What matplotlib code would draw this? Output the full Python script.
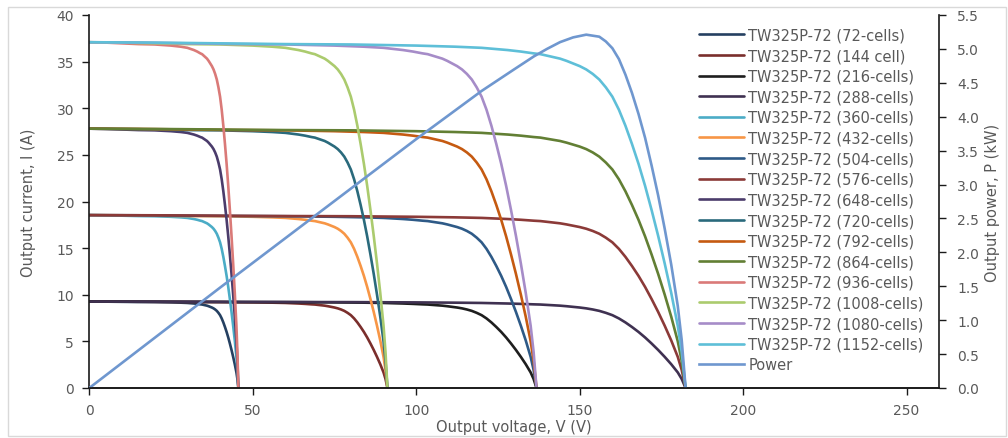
import matplotlib
matplotlib.use("Agg")
import matplotlib.pyplot as plt
from matplotlib.patches import Rectangle
import numpy as np

# ---- data ----
# I-V curve of one TW325P-72 module (72 cells)
module_voltage = [0, 5, 10, 15, 20, 25, 28, 30, 31, 32, 33, 34, 34.5, 35, 35.5, 36,
                  36.5, 37, 37.5, 38, 38.5, 39, 39.5, 40, 40.5, 41, 41.5, 42, 42.5,
                  43, 43.5, 44, 44.5, 45, 45.3, 45.6]
module_current = [9.27, 9.26, 9.24, 9.22, 9.21, 9.18, 9.15, 9.12, 9.09, 9.06, 9.02,
                  8.97, 8.95, 8.91, 8.87, 8.83, 8.77, 8.70, 8.63, 8.54, 8.42, 8.27,
                  8.06, 7.81, 7.46, 7.03, 6.54, 6.01, 5.42, 4.77, 4.08, 3.34, 2.55,
                  1.67, 0.97, 0.0]

labels = ["TW325P-72 (72-cells)", "TW325P-72 (144 cell)", "TW325P-72 (216-cells)",
          "TW325P-72 (288-cells)", "TW325P-72 (360-cells)", "TW325P-72 (432-cells)",
          "TW325P-72 (504-cells)", "TW325P-72 (576-cells)", "TW325P-72 (648-cells)",
          "TW325P-72 (720-cells)", "TW325P-72 (792-cells)", "TW325P-72 (864-cells)",
          "TW325P-72 (936-cells)", "TW325P-72 (1008-cells)", "TW325P-72 (1080-cells)",
          "TW325P-72 (1152-cells)"]
series_modules = [1, 2, 3, 4, 1, 2, 3, 4, 1, 2, 3, 4, 1, 2, 3, 4]
parallel_strings = [1, 1, 1, 1, 2, 2, 2, 2, 3, 3, 3, 3, 4, 4, 4, 4]

power_voltage = [0, 40, 80, 100, 120, 130, 136, 140, 144, 148, 152, 156, 158, 160,
                 162, 164, 166, 168, 170, 172, 174, 176, 178, 180, 181.2, 182.4]
power_kw = [0, 1.48, 2.94, 3.67, 4.38, 4.70, 4.89, 5.00, 5.10, 5.17, 5.21, 5.18,
            5.11, 5.01, 4.85, 4.62, 4.35, 4.04, 3.69, 3.28, 2.84, 2.35, 1.82, 1.21,
            0.71, 0.0]

x_ticks = [0, 50, 100, 150, 200, 250]
y_ticks = [0, 5, 10, 15, 20, 25, 30, 35, 40]
p_ticks = [0, 0.5, 1.0, 1.5, 2.0, 2.5, 3.0, 3.5, 4.0, 4.5, 5.0, 5.5]

colors = ["#254061", "#7A2E2C", "#1E1E1E", "#3F3151", "#4BACC6", "#F79646",
          "#2E5A87", "#8B3A38", "#4B3C6B", "#2A6A7C", "#C55A11", "#627F34",
          "#DA7A78", "#ABCB6E", "#A68CC8", "#5EBFD8"]
power_color = "#6F97CF"

# ---- figure ----
plt.rcParams['font.family'] = ['DejaVu Sans']
fig = plt.figure(figsize=(10.08, 4.39), dpi=100)
fig.patches.append(Rectangle((8 / 1008, 2 / 439), 998 / 1008, 429 / 439,
                             transform=fig.transFigure, fill=False,
                             edgecolor="#D9D9D9", linewidth=1.0))
ax = fig.add_axes([89.3 / 1008, 1 - 389 / 439, (939.3 - 89.3) / 1008, (389 - 16) / 439])
ax2 = ax.twinx()

mv = np.array(module_voltage)
mi = np.array(module_current)
handles = []
for lab, ns, npar, col in zip(labels, series_modules, parallel_strings, colors):
    h, = ax.plot(mv * ns, mi * npar, color=col, lw=1.9, label=lab,
                 solid_capstyle='round', solid_joinstyle='round')
    handles.append(h)
hp, = ax2.plot(power_voltage, power_kw, color=power_color, lw=1.9, label="Power",
               solid_joinstyle='round')
handles.append(hp)

ax.set_xlim(0, 260)
ax.set_ylim(0, 40)
ax2.set_ylim(0, 5.5)
ax.set_xticks(x_ticks)
ax.set_yticks(y_ticks)
ax2.set_yticks(p_ticks)
ax2.set_yticklabels([f"{p:.1f}" for p in p_ticks])

tick_color = "#595959"
for a in (ax, ax2):
    a.spines['top'].set_visible(False)
    for s in ('left', 'right', 'bottom'):
        a.spines[s].set_color("#1A1A1A")
        a.spines[s].set_linewidth(1.2)
    a.tick_params(direction='out', length=5, width=1.0, color="#1A1A1A",
                  labelcolor=tick_color, labelsize=10)
ax2.spines['left'].set_visible(False)
ax.spines['right'].set_visible(False)
ax.tick_params(axis='x', pad=6)
ax.tick_params(axis='y', pad=6)
ax2.tick_params(axis='y', pad=8)

ax.set_xlabel("Output voltage, V (V)", color=tick_color, fontsize=10.5, labelpad=1)
ax.set_ylabel("Output current, I (A)", color=tick_color, fontsize=10.5, labelpad=15)
ax2.set_ylabel("Output power, P (kW)", color=tick_color, fontsize=10.5, labelpad=4,
               rotation=90)

leg = ax2.legend(handles=handles, loc='upper left',
                 bbox_to_anchor=(699 / 1008, 1 - 28.5 / 439),
                 bbox_transform=fig.transFigure, frameon=False, fontsize=10.5,
                 handlelength=3.1, handletextpad=0.27, labelspacing=0.385,
                 borderaxespad=0, borderpad=0)
for t in leg.get_texts():
    t.set_color(tick_color)

fig.savefig("out.png", dpi=100)
